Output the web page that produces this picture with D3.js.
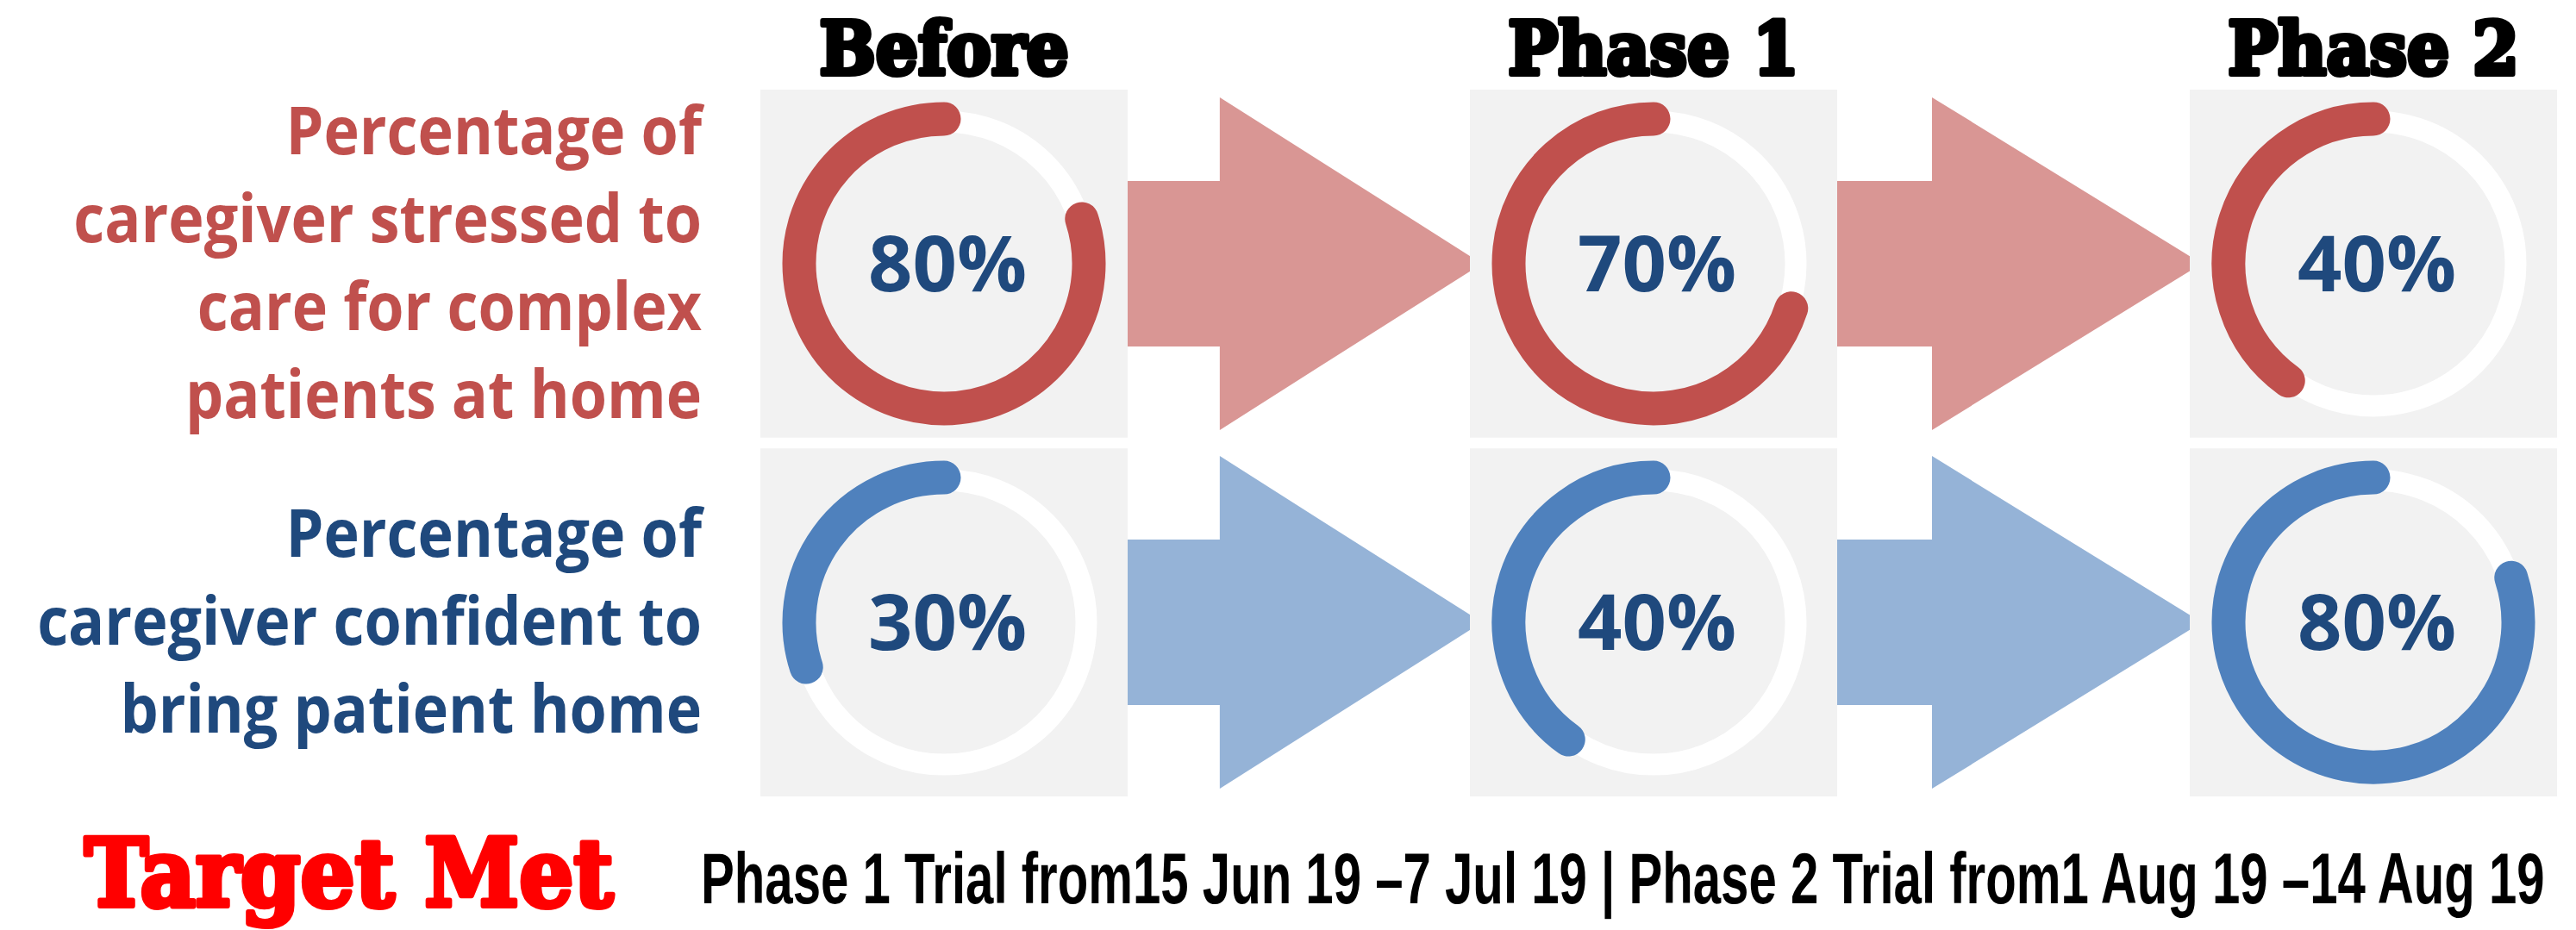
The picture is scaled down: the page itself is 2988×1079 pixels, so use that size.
<!DOCTYPE html>
<html>
<head>
<meta charset="utf-8">
<title>Caregiver stress and confidence by phase</title>
<style>
body { margin: 0; background: #fff; }
svg { display: block; }
</style>
</head>
<body>
<div id="container"></div>
<script src="https://cdn.jsdelivr.net/npm/d3@7"></script>
<script>
// Data.
const phases = ["Before", "Phase 1", "Phase 2"];
const measures = ["stressed", "confident"];
const stressedLabel = ["Percentage of", "caregiver stressed to", "care for complex", "patients at home"];
const confidentLabel = ["Percentage of", "caregiver confident to", "bring patient home"];
const stressedPct = [80, 70, 40];
const confidentPct = [30, 40, 80];
const footerTitle = "Target Met";
const footerNote = "Phase 1 Trial from15 Jun 19 \u20137 Jul 19 | Phase 2 Trial from1 Aug 19 \u201314 Aug 19";

// Chart dimensions.
const width = 2988;
const height = 1079;
const boxW = 426;
const labelRight = 814;
const lineGap = 102;

const colors = {
  stressed: { text: "#C0504D", ring: "#C0504D", arrow: "#D99694" },
  confident: { text: "#1F497D", ring: "#4F81BD", arrow: "#95B3D7" }
};

// x: left edge of each phase box; y: one band per measure.
const x = d3.scaleOrdinal().domain(phases).range([882, 1705, 2540]);
const y = d3.scaleBand().domain(measures).range([104, 924]).paddingInner(0.03);
const angle = d3.scaleLinear().domain([0, 100]).range([0, 2 * Math.PI]);

const rows = [
  { key: "stressed", label: stressedLabel, values: stressedPct },
  { key: "confident", label: confidentLabel, values: confidentPct }
];

const svg = d3.create("svg")
    .attr("width", width)
    .attr("height", height)
    .attr("viewBox", [0, 0, width, height]);

svg.append("rect").attr("width", width).attr("height", height).attr("fill", "#fff");

// Column titles.
svg.append("g")
  .selectAll("text")
  .data(phases)
  .join("text")
    .attr("transform", d => `translate(${x(d) + boxW / 2},86) scale(0.92,1)`)
    .attr("text-anchor", "middle")
    .attr("font-family", "DejaVu Serif")
    .attr("font-weight", 700)
    .attr("font-size", 84)
    .attr("fill", "#000")
    .attr("stroke", "#000")
    .attr("stroke-width", 6)
    .attr("stroke-linejoin", "round")
    .text(d => d);

// Row labels, right aligned.
const labels = svg.append("g");
rows.forEach(r => {
  const cy = y(r.key) + y.bandwidth() / 2;
  const n = r.label.length;
  labels.append("g")
    .attr("class", "label")
    .selectAll("text")
    .data(r.label)
    .join("text")
      .attr("y", (d, i) => cy + 26 + (i - (n - 1) / 2) * lineGap)
      .attr("text-anchor", "end")
      .attr("font-family", "Open Sans")
      .attr("font-weight", 700)
      .attr("font-size", 77)
      .attr("fill", colors[r.key].text)
      .text(d => d);
});

// Arrows between the phase boxes.
const arrowLine = d3.line();
rows.forEach(r => {
  const cy = y(r.key) + y.bandwidth() / 2;
  for (let i = 0; i < phases.length - 1; i++) {
    const x0 = x(phases[i]) + boxW;
    const x2 = x(phases[i + 1]) + 14;
    const x1 = x0 + 0.26 * (x2 - x0);
    svg.append("path")
      .attr("fill", colors[r.key].arrow)
      .attr("d", arrowLine([
        [x0, cy - 96], [x1, cy - 96], [x1, cy - 193], [x2, cy],
        [x1, cy + 193], [x1, cy + 96], [x0, cy + 96]
      ]) + "Z");
  }
});

// Donut cells.
rows.forEach(r => {
  const g = svg.append("g");
  const cells = g.selectAll("g")
    .data(phases.map((p, i) => ({ phase: p, value: r.values[i] })))
    .join("g")
      .attr("transform", d => `translate(${x(d.phase)},${y(r.key)})`);

  cells.append("rect")
    .attr("width", boxW)
    .attr("height", y.bandwidth())
    .attr("fill", "#F2F2F2");

  const cx = boxW / 2, cy = y.bandwidth() / 2;

  cells.append("circle")
    .attr("cx", cx)
    .attr("cy", cy)
    .attr("r", 165)
    .attr("fill", "none")
    .attr("stroke", "#fff")
    .attr("stroke-width", 25);

  cells.append("path")
    .attr("fill", "none")
    .attr("stroke", colors[r.key].ring)
    .attr("stroke-width", 39)
    .attr("stroke-linecap", "round")
    .attr("d", d => {
      const p = d3.path();
      p.arc(cx, cy, 168, -Math.PI / 2, -Math.PI / 2 - angle(d.value), true);
      return p.toString();
    });

  cells.append("text")
    .attr("x", cx + 4)
    .attr("y", cy + 32)
    .attr("text-anchor", "middle")
    .attr("font-family", "Open Sans")
    .attr("font-weight", 700)
    .attr("font-size", 90)
    .attr("fill", "#1F497D")
    .text(d => d.value + "%");
});

// Footer.
svg.append("text")
    .attr("transform", "translate(98,1051) scale(0.92,1)")
    .attr("font-family", "DejaVu Serif")
    .attr("font-weight", 700)
    .attr("font-size", 108)
    .attr("fill", "#FF0000")
    .attr("stroke", "#FF0000")
    .attr("stroke-width", 6)
    .attr("stroke-linejoin", "round")
    .text(footerTitle);

const note = svg.append("text")
    .attr("font-family", "Liberation Sans")
    .attr("font-weight", 700)
    .attr("font-size", 84)
    .attr("fill", "#000")
    .text(footerNote);

container.append(svg.node());

// Squeeze the row labels so the widest line fits like the original condensed face.
let widest = 0;
svg.selectAll(".label text").each(function() {
  widest = Math.max(widest, this.getComputedTextLength());
});
const k = 771 / widest;
svg.selectAll(".label").attr("transform", `translate(${labelRight},0) scale(${k},1)`);

// The footer note is a very narrow face: scale it to its span.
const kn = 2139 / note.node().getComputedTextLength();
note.attr("transform", `translate(813,1048) scale(${kn},1)`);
</script>
</body>
</html>
